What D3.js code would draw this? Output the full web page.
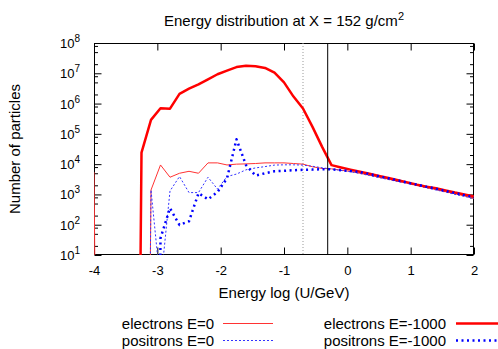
<!DOCTYPE html>
<html><head><meta charset="utf-8">
<script src="https://cdn.jsdelivr.net/npm/d3@7"></script>
<style>
html,body{margin:0;padding:0;background:#fff;}
svg{display:block;font-family:"Liberation Sans",Arial,sans-serif;}
</style></head>
<body>
<svg id="chart" width="498" height="349"></svg>
<script>
// ---- data ----
const energyLog = [-4.0,-3.85,-3.7,-3.55,-3.4,-3.25,-3.1,-2.95,-2.8,-2.65,-2.5,-2.35,-2.2,-2.05,-1.9,-1.75,-1.6,-1.45,-1.3,-1.15,-1.0,-0.85,-0.7,-0.55,-0.4,-0.25,-0.1,0.05,0.2,0.35,0.5,0.65,0.8,0.95,1.1,1.25,1.4,1.55,1.7,1.85,2.0];
const electronsE0 = [5500,0,0,0,0,0,1400,9400,3700,5000,5800,5000,11000,11000,9400,10000,10200,10500,11000,11000,11000,10500,10000,8200,7200,7000,6300,5750,5000,4300,3700,3200,2700,2350,2000,1700,1450,1230,1050,890,740];
const positronsE0 = [0,0,0,0,0,0,1400,1,1300,3900,1150,1150,3700,1500,3900,4700,6500,7500,8300,9300,9500,9500,9300,8500,7600,6900,6200,5600,4900,4200,3600,3100,2650,2300,1950,1650,1400,1200,1000,860,720];
const electronsEm1000 = [0,0,0,0,0,24000,290000,700000,680000,2100000,3100000,4300000,6300000,9300000,12300000,16000000,17800000,17000000,15000000,10500000,5000000,1700000,690000,170000,38000,9300,7800,6600,5600,4800,4100,3500,2950,2500,2100,1800,1600,1350,1150,1000,850];
const positronsEm1000 = [0,0,0,0,0,0,0,36,350,98,130,1100,690,1200,3400,66000,9300,4200,5000,5800,6000,6300,6500,6600,6800,6800,6300,5900,5500,4700,4000,3400,2900,2450,2100,1800,1550,1300,1120,950,810];
const seriesNames = ["electrons E=0","positrons E=0","electrons E=-1000","positrons E=-1000"];
const xTickValues = [-4,-3,-2,-1,0,1,2];
const yTickExponents = [1,2,3,4,5,6,7,8];
const minorMultipliers = [2,5,8];
const solidMarkerX = -0.31;
const dottedMarkerX = -0.70;

// ---- layout ----
const M = {left:94, right:474, top:43, bottom:255};
const x = d3.scaleLinear().domain([-4,2]).range([M.left, M.right]);
const y = d3.scaleLog().domain([10,1e8]).range([M.bottom, M.top]);
const svg = d3.select("#chart");

svg.append("defs").append("clipPath").attr("id","clip")
  .append("rect").attr("x",M.left).attr("y",M.top)
  .attr("width",M.right-M.left).attr("height",M.bottom-M.top);

// title
const title = svg.append("text").attr("x",(M.left+M.right)/2).attr("y",26)
  .attr("text-anchor","middle").attr("font-size",15);
title.append("tspan").text("Energy distribution at X = 152 g/cm");
title.append("tspan").attr("font-size",11).attr("dy",-6).text("2");

// axis frame
svg.append("rect").attr("x",M.left+0.5).attr("y",M.top+0.5)
  .attr("width",M.right-M.left-1).attr("height",M.bottom-M.top-1)
  .attr("fill","none").attr("stroke","#000").attr("stroke-width",1);

// x ticks (bottom & top, inward)
const xAxisB = d3.axisBottom(x).tickValues(xTickValues).tickSizeInner(-7).tickSizeOuter(0).tickFormat(d=>d);
const gxb = svg.append("g").attr("transform",`translate(0,${M.bottom-0.5})`).call(xAxisB);
gxb.select(".domain").remove();
gxb.selectAll("text").attr("font-size",13).attr("font-family","Liberation Sans, Arial, sans-serif").attr("dy",null).attr("y",20).attr("fill","#000");
gxb.selectAll("line").attr("stroke","#000");
const xAxisT = d3.axisTop(x).tickValues(xTickValues).tickSizeInner(-7).tickSizeOuter(0).tickFormat("");
const gxt = svg.append("g").attr("transform",`translate(0,${M.top+0.5})`).call(xAxisT);
gxt.select(".domain").remove();

// y ticks
const majorVals = yTickExponents.map(e=>Math.pow(10,e));
const minorVals = [];
yTickExponents.slice(0,-1).forEach(e=>minorMultipliers.forEach(m=>minorVals.push(m*Math.pow(10,e))));
const yl = d3.axisLeft(y).tickValues(majorVals).tickSizeInner(-7).tickSizeOuter(0).tickFormat("");
const gyl = svg.append("g").attr("transform",`translate(${M.left+0.5},0)`).call(yl); gyl.select(".domain").remove();
const ylm = d3.axisLeft(y).tickValues(minorVals).tickSizeInner(-3.5).tickSizeOuter(0).tickFormat("");
const gylm = svg.append("g").attr("transform",`translate(${M.left+0.5},0)`).call(ylm); gylm.select(".domain").remove();
const yr = d3.axisRight(y).tickValues(majorVals).tickSizeInner(-7).tickSizeOuter(0).tickFormat("");
const gyr = svg.append("g").attr("transform",`translate(${M.right-0.5},0)`).call(yr); gyr.select(".domain").remove();
const yrm = d3.axisRight(y).tickValues(minorVals).tickSizeInner(-3.5).tickSizeOuter(0).tickFormat("");
const gyrm = svg.append("g").attr("transform",`translate(${M.right-0.5},0)`).call(yrm); gyrm.select(".domain").remove();

// y tick labels 10^n
yTickExponents.forEach(e=>{
  const t = svg.append("text").attr("x",80).attr("y",y(Math.pow(10,e))+5)
    .attr("text-anchor","end").attr("font-size",13);
  t.append("tspan").text("10");
  t.append("tspan").attr("font-size",10).attr("dy",-6).text(e);
});

// axis labels
svg.append("text").attr("x",(M.left+M.right)/2).attr("y",298).attr("text-anchor","middle")
  .attr("font-size",15).text("Energy log (U/GeV)");
svg.append("text").attr("transform",`translate(20,${(M.top+M.bottom)/2}) rotate(-90)`)
  .attr("text-anchor","middle").attr("font-size",15).text("Number of particles");

// marker lines
svg.append("line").attr("x1",x(dottedMarkerX)).attr("x2",x(dottedMarkerX))
  .attr("y1",M.top).attr("y2",M.bottom).attr("stroke","#999").attr("stroke-width",1).attr("stroke-dasharray","1,2");

// data lines
const floorVal = 1e-30;
const line = d3.line().x(d=>x(d[0])).y(d=>y(d[1]>0?d[1]:floorVal));
const styles = [
  {data:electronsE0, color:"#ff3333", width:1, dash:null},
  {data:positronsE0, color:"#3333ff", width:1, dash:"2,2"},
  {data:electronsEm1000, color:"#ff0000", width:2.5, dash:null},
  {data:positronsEm1000, color:"#0000ff", width:2.5, dash:"2,3.5"}
];
const plotG = svg.append("g").attr("clip-path","url(#clip)");
styles.forEach(s=>{
  const pts = energyLog.map((e,i)=>[e,s.data[i]]);
  plotG.append("path").attr("d",line(pts)).attr("fill","none")
    .attr("stroke",s.color).attr("stroke-width",s.width)
    .attr("stroke-dasharray",s.dash).attr("stroke-linejoin","round");
});

svg.append("line").attr("x1",x(solidMarkerX)).attr("x2",x(solidMarkerX))
  .attr("y1",M.top).attr("y2",M.bottom).attr("stroke","#000").attr("stroke-width",1);

// legend
const legendPos = [
  {tx:214, lx1:223, lx2:273, y:323.5},
  {tx:214, lx1:223, lx2:273, y:340.5},
  {tx:446, lx1:456, lx2:506, y:323.5},
  {tx:446, lx1:456, lx2:506, y:340.5}
];
styles.forEach((s,i)=>{
  const p = legendPos[i];
  svg.append("text").attr("x",p.tx).attr("y",p.y+5).attr("text-anchor","end")
    .attr("font-size",15).text(seriesNames[i]);
  svg.append("line").attr("x1",p.lx1).attr("x2",p.lx2).attr("y1",p.y).attr("y2",p.y)
    .attr("stroke",s.color).attr("stroke-width",s.width).attr("stroke-dasharray",s.dash);
});
</script>
</body></html>
